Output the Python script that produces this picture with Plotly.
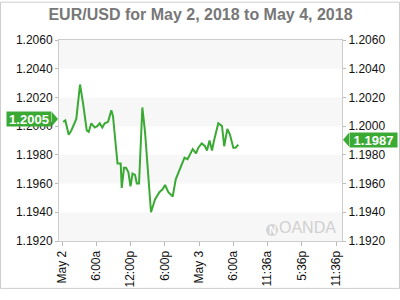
import plotly.graph_objects as go

# ---- data (hours since May 2 00:00, EUR/USD rate) ----
hours = [0.2, 0.58, 1.17, 1.63, 2.5, 3.15, 3.68, 4.33, 4.68, 5.13, 5.73, 6.18, 6.6, 7.06,
         7.48, 8.06, 8.64, 8.93, 9.72, 10.28, 10.46, 10.86, 11.21, 11.62, 12.0, 12.35,
         12.79, 13.1, 13.49, 14.07, 14.54, 15.59, 16.29, 17.05, 17.61, 18.05, 18.63,
         19.39, 19.92, 20.67, 21.46, 21.99, 22.9, 23.48, 23.88, 24.47, 25.05, 25.4,
         25.84, 26.28, 26.63, 27.38, 28.03, 28.41, 28.96, 29.43, 30.01, 30.4, 30.89]
rates = [1.2003, 1.2004, 1.1994, 1.1997, 1.2005, 1.2029, 1.2016, 1.1997, 1.1996, 1.2002,
         1.1999, 1.2000, 1.2002, 1.1999, 1.2002, 1.2003, 1.2011, 1.2007, 1.1974, 1.1974,
         1.1957, 1.1971, 1.1971, 1.1968, 1.1958, 1.1967, 1.1966, 1.1960, 1.1960, 1.2013,
         1.1996, 1.1940, 1.1949, 1.1954, 1.1956, 1.1959, 1.1954, 1.1951, 1.1963, 1.1970,
         1.1978, 1.1977, 1.1984, 1.1981, 1.1985, 1.1988, 1.1986, 1.1983, 1.1990, 1.1983,
         1.1990, 1.2002, 1.2000, 1.1986, 1.1998, 1.1994, 1.1985, 1.1985, 1.1987]

x_tickvals = [0, 6, 12, 18, 24, 30, 36, 42, 48]
x_ticktext = ["May 2", "6:00a", "12:00p", "6:00p", "May 3", "6:00a", "11:36a", "5:36p", "11:36p"]
y_ticks = [1.1920, 1.1940, 1.1960, 1.1980, 1.2000, 1.2020, 1.2040, 1.2060]
open_label = 1.2005
last_label = 1.1987
title = "EUR/USD for May 2, 2018 to May 4, 2018"

GREEN = "#3aaa35"
ML, MR, MT, MB = 59, 58, 40, 50
W, H = 400, 300
PW, PH = W - ML - MR, H - MT - MB

fig = go.Figure()
fig.add_trace(go.Scatter(x=hours, y=rates, mode="lines",
                         line=dict(color=GREEN, width=2), hoverinfo="skip",
                         showlegend=False))

shapes = []
# alternating bands
for i in range(0, len(y_ticks) - 1, 2):
    shapes.append(dict(type="rect", xref="paper", yref="y", x0=0, x1=1,
                       y0=y_ticks[i], y1=y_ticks[i + 1], fillcolor="#f7f7f7",
                       line=dict(width=0), layer="below"))
# outer border
shapes.append(dict(type="rect", xref="paper", yref="paper",
                   x0=(-ML + 0.5) / PW, x1=1 + (MR - 0.5) / PW,
                   y0=(-MB + 0.5) / PH, y1=1 + (MT - 0.5) / PH,
                   line=dict(color="#cccccc", width=1), fillcolor="rgba(0,0,0,0)"))
# pointer triangles for labels
shapes.append(dict(type="path", xref="paper", yref="y", xsizemode="pixel", ysizemode="pixel",
                   xanchor=(52 - ML) / PW, yanchor=open_label,
                   path="M0,-7 L6,0 L0,7 Z", fillcolor=GREEN, line=dict(width=0)))
shapes.append(dict(type="path", xref="paper", yref="y", xsizemode="pixel", ysizemode="pixel",
                   xanchor=1 + (349 - ML - PW) / PW, yanchor=last_label,
                   path="M0,-2 L-6,5 L0,12 Z", fillcolor=GREEN, line=dict(width=0)))
# OANDA logo circle
shapes.append(dict(type="circle", xref="paper", yref="paper", xsizemode="pixel", ysizemode="pixel",
                   xanchor=1, yanchor=0, x0=-76, x1=-64, y0=5, y1=17,
                   fillcolor="#d4d4d4", line=dict(width=0)))

annotations = [
    dict(text="<b>%.4f</b>" % open_label, xref="paper", yref="y", x=(52 - ML) / PW, y=open_label,
         xanchor="right", yanchor="middle", showarrow=False, bgcolor=GREEN,
         font=dict(color="white", size=13, family="Arial"), width=44, height=14, borderpad=0),
    dict(text="<b>%.4f</b>" % last_label, xref="paper", yref="y", x=1 + (349 - ML - PW) / PW,
         y=last_label, yshift=5, xanchor="left", yanchor="middle", showarrow=False, bgcolor=GREEN,
         font=dict(color="white", size=13, family="Arial"), width=47, height=14, borderpad=0),
    dict(text="OANDA", xref="paper", yref="paper", x=1, y=0, xshift=-4, yshift=3,
         xanchor="right", yanchor="bottom", showarrow=False,
         font=dict(color="#d0d0d0", size=16, family="Arial")),
    dict(text="<b>N</b>", xref="paper", yref="paper", x=1, y=0, xshift=-70, yshift=11,
         xanchor="center", yanchor="middle", showarrow=False,
         font=dict(color="white", size=10, family="Arial")),
]

axis_font = dict(family="Arial", size=12, color="#111111")
fig.update_layout(
    width=W, height=H, margin=dict(l=ML, r=MR, t=MT, b=MB),
    paper_bgcolor="white", plot_bgcolor="white",
    title=dict(text="<b>" + title + "</b>", x=0.5, xref="paper", xanchor="center",
               y=1 - 14 / H, yanchor="middle",
               font=dict(family="Arial", size=16, color="#777777")),
    xaxis=dict(range=[-0.53, 49.05], tickvals=x_tickvals, ticktext=x_ticktext,
               tickangle=-90, ticks="outside", ticklen=4, tickcolor="#bbbbbb",
               showgrid=False, zeroline=False, showline=True, linecolor="#cccccc",
               mirror=True, tickfont=axis_font),
    yaxis=dict(range=[y_ticks[0], y_ticks[-1]], tickvals=y_ticks, tickformat=".4f",
               ticks="outside", ticklen=3, tickcolor="#bbbbbb", showgrid=False,
               zeroline=False, showline=True, linecolor="#cccccc", mirror=True,
               tickfont=axis_font),
    yaxis2=dict(range=[y_ticks[0], y_ticks[-1]], tickvals=y_ticks, tickformat=".4f",
                overlaying="y", side="right", ticks="outside", ticklen=3,
                tickcolor="#bbbbbb", showgrid=False, zeroline=False, showline=False,
                tickfont=axis_font),
    shapes=shapes, annotations=annotations, showlegend=False,
)
fig.add_trace(go.Scatter(x=[hours[0]], y=[rates[0]], yaxis="y2", mode="markers",
                         marker=dict(opacity=0), hoverinfo="skip", showlegend=False))

fig.write_html("out.html")
